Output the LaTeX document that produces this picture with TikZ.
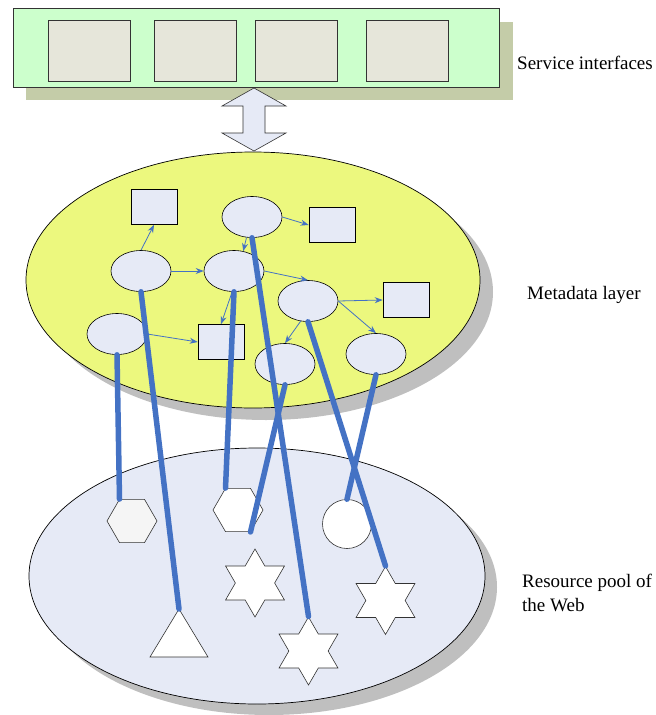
\documentclass[tikz,border=0pt]{standalone}
\usepackage{fontspec}
\setmainfont{Liberation Serif}
\usetikzlibrary{shapes.geometric,arrows.meta}
\definecolor{ifgreen}{RGB}{204,255,204}
\definecolor{ifbox}{RGB}{230,230,218}
\definecolor{ifshadow}{RGB}{196,204,168}
\definecolor{metayellow}{RGB}{236,248,126}
\definecolor{paleblue}{RGB}{230,234,246}
\definecolor{shadowgray}{RGB}{191,191,191}
\definecolor{linkblue}{RGB}{68,114,196}
\tikzset{
  ifacebox/.style={draw=black!80,fill=ifbox,line width=0.6pt,minimum width=82pt,minimum height=61pt,inner sep=0pt},
  mellipse/.style={ellipse,draw=black,fill=paleblue,line width=0.6pt,minimum width=60pt,minimum height=41pt,inner sep=0pt},
  mrect/.style={rectangle,draw=black,fill=paleblue,line width=0.6pt,minimum width=46pt,minimum height=35pt,inner sep=0pt},
  thinarrow/.style={draw=linkblue,line width=0.8pt,-{Stealth[length=8pt,width=6pt]}},
  thickline/.style={draw=linkblue,line width=5.5pt,line cap=round},
  hexshape/.style={regular polygon,regular polygon sides=6,draw=black!80,line width=0.6pt,minimum size=50pt,inner sep=0pt},
  starshape/.style={star,star points=6,star point ratio=1.732,draw=black!80,fill=white,line width=0.6pt,minimum size=68pt,inner sep=0pt},
  lbl/.style={font=\fontsize{19}{24}\selectfont,anchor=west,inner sep=0pt,align=left}
}
\begin{document}
\begin{tikzpicture}[x=1pt,y=-1pt]
\useasboundingbox (0,0) rectangle (656,715);
% service interfaces
\fill[ifshadow] (26,22) rectangle (513,100);
\draw[fill=ifgreen,draw=black!80,line width=0.7pt] (13,8) rectangle (499,87);
\node[ifacebox] (s1) at (89,50.5) {};
\node[ifacebox] (s2) at (195,50.5) {};
\node[ifacebox] (s3) at (296,50.5) {};
\node[ifacebox] (s4) at (407.5,50.5) {};
\node[lbl] (lsi) at (517,63) {Service interfaces};
% double arrow
\draw[fill=paleblue,draw=black!80,line width=0.6pt]
  (254,88) -- (286,106) -- (265,106) -- (265,133) -- (286,133) -- (254,151)
  -- (222,133) -- (243,133) -- (243,106) -- (222,106) -- cycle;
% metadata layer
\fill[shadowgray] (266,292) ellipse [x radius=227,y radius=128];
\draw[fill=metayellow,line width=0.7pt] (253,280) ellipse [x radius=227,y radius=128];
\node[lbl] (lml) at (527,295) {Metadata layer};
% resource pool
\fill[shadowgray] (269,587) ellipse [x radius=228,y radius=128];
\draw[fill=paleblue,line width=0.7pt] (257,576) ellipse [x radius=228,y radius=128];
\node[lbl] (lrp) at (522,593) {Resource pool of\\the Web};
% metadata nodes
\node[mellipse] (e1) at (141,271) {};
\node[mellipse] (e2) at (234,271) {};
\node[mellipse] (e3) at (252,217) {};
\node[mellipse] (e4) at (308,301) {};
\node[mellipse] (e5) at (117,334) {};
\node[mellipse] (e6) at (285,364) {};
\node[mellipse] (e7) at (376,354) {};
\node[mrect] (r1) at (154,207) {};
\node[mrect] (r2) at (332,225) {};
\node[mrect] (r3) at (406,300) {};
\node[mrect] (r4) at (221,342) {};
% thin arrows
\draw[thinarrow] (e1.north) -- (r1.south);
\draw[thinarrow] (e1.east) -- (e2.west);
\draw[thinarrow] (e3.east) -- (r2.west);
\draw[thinarrow] (e3.255) -- (e2.65);
\draw[thinarrow] (e2.east) -- (e4.north);
\draw[thinarrow] (e2.265) -- (r4.north);
\draw[thinarrow] (e5.east) -- (r4.west);
\draw[thinarrow] (e4.east) -- (r3.west);
\draw[thinarrow] (e4.east) -- (e7.north);
\draw[thinarrow] (e4.250) -- (e6.north);
% resources
\node[hexshape,fill=black!4] (h1) at (132,521) {};
\node[hexshape,fill=white] (h2) at (238,510) {};
\node[circle,draw=black!80,fill=white,line width=0.6pt,minimum size=49pt,inner sep=0pt] (c1) at (347,524) {};
\coordinate (tri) at (179,609);
\draw[fill=white,draw=black!80,line width=0.6pt] (tri) -- (208,657) -- (150,657) -- cycle;
\node[starshape] (st1) at (255,583) {};
\node[starshape] (st2) at (308.5,651) {};
\node[starshape] (st3) at (385.5,600.5) {};
% thick links
\draw[thickline] (e1.south) -- (tri);
\draw[thickline] (e5.south) -- ([xshift=-12.5pt]h1.north);
\draw[thickline] (e2.south) -- ([xshift=-12.5pt]h2.north);
\draw[thickline] (e3.south) -- (st2.north);
\draw[thickline] (e6.south) -- ([xshift=12.5pt]h2.south);
\draw[thickline] (e4.south) -- (st3.north);
\draw[thickline] (e7.south) -- (c1.north);
\end{tikzpicture}
\end{document}
